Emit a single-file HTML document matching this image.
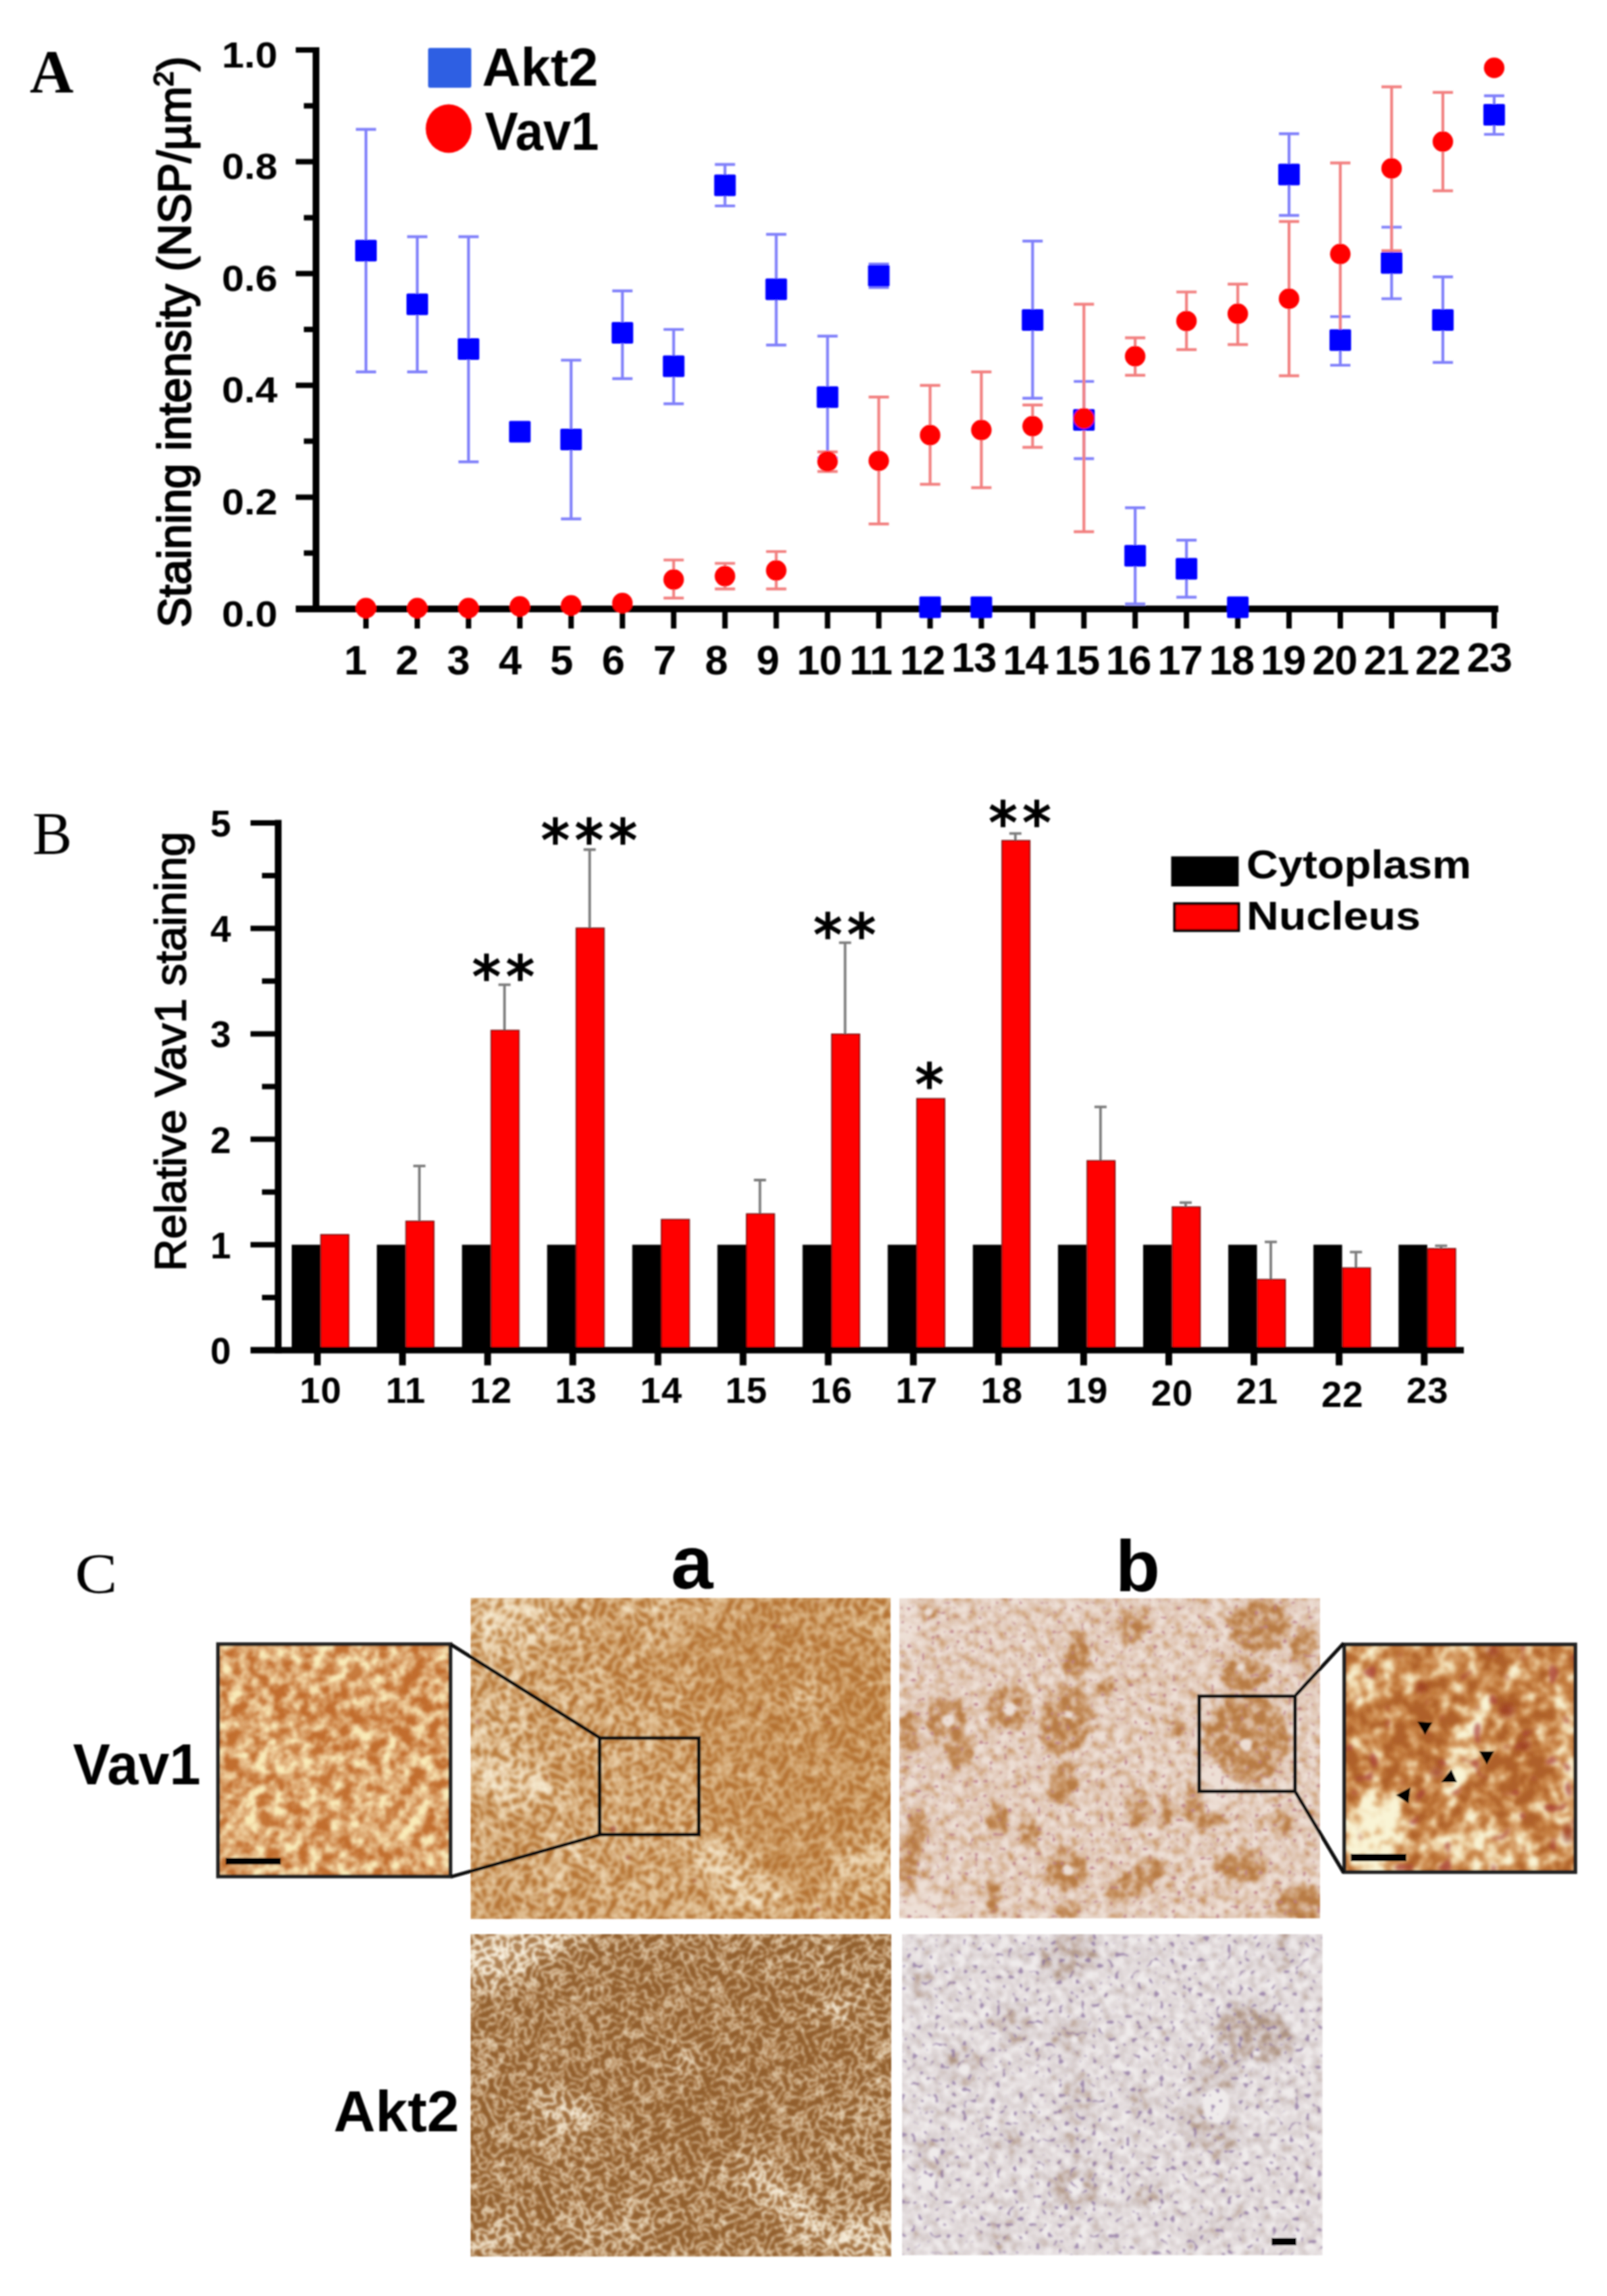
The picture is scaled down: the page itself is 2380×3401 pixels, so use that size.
<!DOCTYPE html>
<html lang="en"><head><meta charset="utf-8"><title>Figure</title>
<style>html,body{margin:0;padding:0;background:#fff}svg{display:block}text{fill:#000}</style></head>
<body><svg width="2380" height="3401" viewBox="0 0 2380 3401">
<rect width="2380" height="3401" fill="#fff"/>
<defs><filter id="soft" x="-2%" y="-2%" width="104%" height="104%"><feGaussianBlur stdDeviation="0.9"/></filter></defs>
<g id="panelA" filter="url(#soft)">
<text x="44" y="137" font-family='"Liberation Serif", "Times New Roman", serif' font-size="90" font-weight="bold" fill="#222">A</text>
<g stroke="#000" fill="none">
<path d="M468 70V907" stroke-width="10"/>
<path d="M438 902H2219" stroke-width="10"/>
<path d="M438 902.0H468M450 819.2H468M438 736.4H468M450 653.6H468M438 570.8H468M450 488.0H468M438 405.2H468M450 322.4H468M438 239.6H468M450 156.8H468M438 74.0H468" stroke-width="8"/>
<path d="M542.0 904V931M618.0 904V931M693.9 904V931M769.9 904V931M845.8 904V931M921.8 904V931M997.7 904V931M1073.7 904V931M1149.6 904V931M1225.6 904V931M1301.5 904V931M1377.5 904V931M1453.4 904V931M1529.3 904V931M1605.3 904V931M1681.2 904V931M1757.2 904V931M1833.2 904V931M1909.1 904V931M1985.0 904V931M2061.0 904V931M2136.9 904V931M2212.9 904V931" stroke-width="8"/>
</g>
<text transform="translate(411,927.5) scale(1.12,1)" text-anchor="end" font-family='"Liberation Sans", Arial, Helvetica, sans-serif' font-weight="bold" font-size="53">0.0</text>
<text transform="translate(411,761.9) scale(1.12,1)" text-anchor="end" font-family='"Liberation Sans", Arial, Helvetica, sans-serif' font-weight="bold" font-size="53">0.2</text>
<text transform="translate(411,596.3) scale(1.12,1)" text-anchor="end" font-family='"Liberation Sans", Arial, Helvetica, sans-serif' font-weight="bold" font-size="53">0.4</text>
<text transform="translate(411,430.7) scale(1.12,1)" text-anchor="end" font-family='"Liberation Sans", Arial, Helvetica, sans-serif' font-weight="bold" font-size="53">0.6</text>
<text transform="translate(411,265.1) scale(1.12,1)" text-anchor="end" font-family='"Liberation Sans", Arial, Helvetica, sans-serif' font-weight="bold" font-size="53">0.8</text>
<text transform="translate(411,99.5) scale(1.12,1)" text-anchor="end" font-family='"Liberation Sans", Arial, Helvetica, sans-serif' font-weight="bold" font-size="53">1.0</text>
<text x="526.0" y="999" text-anchor="middle" font-family='"Liberation Sans", Arial, Helvetica, sans-serif' font-weight="bold" font-size="61.5" letter-spacing="-1">1</text>
<text x="602.4" y="999" text-anchor="middle" font-family='"Liberation Sans", Arial, Helvetica, sans-serif' font-weight="bold" font-size="61.5" letter-spacing="-1">2</text>
<text x="678.7" y="999" text-anchor="middle" font-family='"Liberation Sans", Arial, Helvetica, sans-serif' font-weight="bold" font-size="61.5" letter-spacing="-1">3</text>
<text x="755.1" y="999" text-anchor="middle" font-family='"Liberation Sans", Arial, Helvetica, sans-serif' font-weight="bold" font-size="61.5" letter-spacing="-1">4</text>
<text x="831.4" y="999" text-anchor="middle" font-family='"Liberation Sans", Arial, Helvetica, sans-serif' font-weight="bold" font-size="61.5" letter-spacing="-1">5</text>
<text x="907.8" y="999" text-anchor="middle" font-family='"Liberation Sans", Arial, Helvetica, sans-serif' font-weight="bold" font-size="61.5" letter-spacing="-1">6</text>
<text x="984.1" y="999" text-anchor="middle" font-family='"Liberation Sans", Arial, Helvetica, sans-serif' font-weight="bold" font-size="61.5" letter-spacing="-1">7</text>
<text x="1060.5" y="999" text-anchor="middle" font-family='"Liberation Sans", Arial, Helvetica, sans-serif' font-weight="bold" font-size="61.5" letter-spacing="-1">8</text>
<text x="1136.8" y="999" text-anchor="middle" font-family='"Liberation Sans", Arial, Helvetica, sans-serif' font-weight="bold" font-size="61.5" letter-spacing="-1">9</text>
<text x="1213.2" y="999" text-anchor="middle" font-family='"Liberation Sans", Arial, Helvetica, sans-serif' font-weight="bold" font-size="61.5" letter-spacing="-1">10</text>
<text x="1289.5" y="999" text-anchor="middle" font-family='"Liberation Sans", Arial, Helvetica, sans-serif' font-weight="bold" font-size="61.5" letter-spacing="-1">11</text>
<text x="1365.9" y="999" text-anchor="middle" font-family='"Liberation Sans", Arial, Helvetica, sans-serif' font-weight="bold" font-size="61.5" letter-spacing="-1">12</text>
<text x="1442.2" y="995" text-anchor="middle" font-family='"Liberation Sans", Arial, Helvetica, sans-serif' font-weight="bold" font-size="61.5" letter-spacing="-1">13</text>
<text x="1518.5" y="999" text-anchor="middle" font-family='"Liberation Sans", Arial, Helvetica, sans-serif' font-weight="bold" font-size="61.5" letter-spacing="-1">14</text>
<text x="1594.9" y="999" text-anchor="middle" font-family='"Liberation Sans", Arial, Helvetica, sans-serif' font-weight="bold" font-size="61.5" letter-spacing="-1">15</text>
<text x="1671.2" y="999" text-anchor="middle" font-family='"Liberation Sans", Arial, Helvetica, sans-serif' font-weight="bold" font-size="61.5" letter-spacing="-1">16</text>
<text x="1747.6" y="999" text-anchor="middle" font-family='"Liberation Sans", Arial, Helvetica, sans-serif' font-weight="bold" font-size="61.5" letter-spacing="-1">17</text>
<text x="1824.0" y="999" text-anchor="middle" font-family='"Liberation Sans", Arial, Helvetica, sans-serif' font-weight="bold" font-size="61.5" letter-spacing="-1">18</text>
<text x="1900.3" y="999" text-anchor="middle" font-family='"Liberation Sans", Arial, Helvetica, sans-serif' font-weight="bold" font-size="61.5" letter-spacing="-1">19</text>
<text x="1976.6" y="999" text-anchor="middle" font-family='"Liberation Sans", Arial, Helvetica, sans-serif' font-weight="bold" font-size="61.5" letter-spacing="-1">20</text>
<text x="2053.0" y="999" text-anchor="middle" font-family='"Liberation Sans", Arial, Helvetica, sans-serif' font-weight="bold" font-size="61.5" letter-spacing="-1">21</text>
<text x="2129.3" y="999" text-anchor="middle" font-family='"Liberation Sans", Arial, Helvetica, sans-serif' font-weight="bold" font-size="61.5" letter-spacing="-1">22</text>
<text x="2205.7" y="995" text-anchor="middle" font-family='"Liberation Sans", Arial, Helvetica, sans-serif' font-weight="bold" font-size="61.5" letter-spacing="-1">23</text>
<text transform="translate(281.5,506.5) rotate(-90) scale(1,1.03)" text-anchor="middle" font-family='"Liberation Sans", Arial, Helvetica, sans-serif' font-size="67.3" stroke="#000" stroke-width="2.2" stroke-linejoin="round">Staining intensity (NSP/µm<tspan font-size="40" dy="-25">2</tspan><tspan dy="25">)</tspan></text>
<path d="M542.0 191.6V550.9M527.0 191.6h30M527.0 550.9h30" stroke="#8080fa" stroke-width="4.2" fill="none"/>
<path d="M618.0 350.6V550.9M603.0 350.6h30M603.0 550.9h30" stroke="#8080fa" stroke-width="4.2" fill="none"/>
<path d="M693.9 350.6V684.2M678.9 350.6h30M678.9 684.2h30" stroke="#8080fa" stroke-width="4.2" fill="none"/>
<path d="M845.8 533.5V768.7M830.8 533.5h30M830.8 768.7h30" stroke="#8080fa" stroke-width="4.2" fill="none"/>
<path d="M921.8 430.9V560.9M906.8 430.9h30M906.8 560.9h30" stroke="#8080fa" stroke-width="4.2" fill="none"/>
<path d="M997.7 488.0V598.1M982.7 488.0h30M982.7 598.1h30" stroke="#8080fa" stroke-width="4.2" fill="none"/>
<path d="M1073.7 243.7V305.0M1058.7 243.7h30M1058.7 305.0h30" stroke="#8080fa" stroke-width="4.2" fill="none"/>
<path d="M1149.6 347.2V511.2M1134.6 347.2h30M1134.6 511.2h30" stroke="#8080fa" stroke-width="4.2" fill="none"/>
<path d="M1225.6 497.9V678.4M1210.6 497.9h30M1210.6 678.4h30" stroke="#8080fa" stroke-width="4.2" fill="none"/>
<path d="M1301.5 391.1V425.9M1286.5 391.1h30M1286.5 425.9h30" stroke="#8080fa" stroke-width="4.2" fill="none"/>
<path d="M1529.3 357.2V589.8M1514.3 357.2h30M1514.3 589.8h30" stroke="#8080fa" stroke-width="4.2" fill="none"/>
<path d="M1605.3 565.0V679.3M1590.3 565.0h30M1590.3 679.3h30" stroke="#8080fa" stroke-width="4.2" fill="none"/>
<path d="M1681.2 752.1V894.5M1666.2 752.1h30M1666.2 894.5h30" stroke="#8080fa" stroke-width="4.2" fill="none"/>
<path d="M1757.2 800.2V884.6M1742.2 800.2h30M1742.2 884.6h30" stroke="#8080fa" stroke-width="4.2" fill="none"/>
<path d="M1909.1 198.2V319.1M1894.1 198.2h30M1894.1 319.1h30" stroke="#8080fa" stroke-width="4.2" fill="none"/>
<path d="M1985.0 469.0V541.0M1970.0 469.0h30M1970.0 541.0h30" stroke="#8080fa" stroke-width="4.2" fill="none"/>
<path d="M2061.0 336.5V442.5M2046.0 336.5h30M2046.0 442.5h30" stroke="#8080fa" stroke-width="4.2" fill="none"/>
<path d="M2136.9 410.2V536.9M2121.9 410.2h30M2121.9 536.9h30" stroke="#8080fa" stroke-width="4.2" fill="none"/>
<path d="M2212.9 141.9V199.0M2197.9 141.9h30M2197.9 199.0h30" stroke="#8080fa" stroke-width="4.2" fill="none"/>
<path d="M997.7 829.5V885.8M982.7 829.5h30M982.7 885.8h30" stroke="#f28080" stroke-width="4.2" fill="none"/>
<path d="M1073.7 834.5V872.4M1058.7 834.5h30M1058.7 872.4h30" stroke="#f28080" stroke-width="4.2" fill="none"/>
<path d="M1149.6 817.0V872.4M1134.6 817.0h30M1134.6 872.4h30" stroke="#f28080" stroke-width="4.2" fill="none"/>
<path d="M1225.6 669.3V698.3M1210.6 669.3h30M1210.6 698.3h30" stroke="#f28080" stroke-width="4.2" fill="none"/>
<path d="M1301.5 588.2V776.1M1286.5 588.2h30M1286.5 776.1h30" stroke="#f28080" stroke-width="4.2" fill="none"/>
<path d="M1377.5 570.8V717.4M1362.5 570.8h30M1362.5 717.4h30" stroke="#f28080" stroke-width="4.2" fill="none"/>
<path d="M1453.4 550.9V722.3M1438.4 550.9h30M1438.4 722.3h30" stroke="#f28080" stroke-width="4.2" fill="none"/>
<path d="M1529.3 599.8V662.7M1514.3 599.8h30M1514.3 662.7h30" stroke="#f28080" stroke-width="4.2" fill="none"/>
<path d="M1605.3 450.7V787.7M1590.3 450.7h30M1590.3 787.7h30" stroke="#f28080" stroke-width="4.2" fill="none"/>
<path d="M1681.2 500.4V555.9M1666.2 500.4h30M1666.2 555.9h30" stroke="#f28080" stroke-width="4.2" fill="none"/>
<path d="M1757.2 432.5V517.8M1742.2 432.5h30M1742.2 517.8h30" stroke="#f28080" stroke-width="4.2" fill="none"/>
<path d="M1833.2 420.9V510.4M1818.2 420.9h30M1818.2 510.4h30" stroke="#f28080" stroke-width="4.2" fill="none"/>
<path d="M1909.1 328.2V556.7M1894.1 328.2h30M1894.1 556.7h30" stroke="#f28080" stroke-width="4.2" fill="none"/>
<path d="M1985.0 241.3V512.0M1970.0 241.3h30M1970.0 512.0h30" stroke="#f28080" stroke-width="4.2" fill="none"/>
<path d="M2061.0 128.6V371.3M2046.0 128.6h30M2046.0 371.3h30" stroke="#f28080" stroke-width="4.2" fill="none"/>
<path d="M2136.9 136.9V282.7M2121.9 136.9h30M2121.9 282.7h30" stroke="#f28080" stroke-width="4.2" fill="none"/>
<rect x="526.0" y="355.3" width="32" height="32" rx="2" fill="#0000ff"/>
<rect x="602.0" y="434.7" width="32" height="32" rx="2" fill="#0000ff"/>
<rect x="677.9" y="501.0" width="32" height="32" rx="2" fill="#0000ff"/>
<rect x="753.9" y="623.5" width="32" height="32" rx="2" fill="#0000ff"/>
<rect x="829.8" y="635.1" width="32" height="32" rx="2" fill="#0000ff"/>
<rect x="905.8" y="477.0" width="32" height="32" rx="2" fill="#0000ff"/>
<rect x="981.7" y="526.6" width="32" height="32" rx="2" fill="#0000ff"/>
<rect x="1057.7" y="258.4" width="32" height="32" rx="2" fill="#0000ff"/>
<rect x="1133.6" y="412.4" width="32" height="32" rx="2" fill="#0000ff"/>
<rect x="1209.6" y="572.2" width="32" height="32" rx="2" fill="#0000ff"/>
<rect x="1285.5" y="392.5" width="32" height="32" rx="2" fill="#0000ff"/>
<rect x="1361.5" y="883.5" width="32" height="32" rx="2" fill="#0000ff"/>
<rect x="1437.4" y="883.5" width="32" height="32" rx="2" fill="#0000ff"/>
<rect x="1513.3" y="457.9" width="32" height="32" rx="2" fill="#0000ff"/>
<rect x="1589.3" y="606.1" width="32" height="32" rx="2" fill="#0000ff"/>
<rect x="1665.2" y="807.3" width="32" height="32" rx="2" fill="#0000ff"/>
<rect x="1741.2" y="826.4" width="32" height="32" rx="2" fill="#0000ff"/>
<rect x="1817.2" y="883.5" width="32" height="32" rx="2" fill="#0000ff"/>
<rect x="1893.1" y="242.6" width="32" height="32" rx="2" fill="#0000ff"/>
<rect x="1969.0" y="487.7" width="32" height="32" rx="2" fill="#0000ff"/>
<rect x="2045.0" y="373.5" width="32" height="32" rx="2" fill="#0000ff"/>
<rect x="2120.9" y="457.9" width="32" height="32" rx="2" fill="#0000ff"/>
<rect x="2196.9" y="154.0" width="32" height="32" rx="2" fill="#0000ff"/>
<circle cx="542.0" cy="900.7" r="15.2" fill="#ff0000"/>
<circle cx="618.0" cy="900.7" r="15.2" fill="#ff0000"/>
<circle cx="693.9" cy="900.7" r="15.2" fill="#ff0000"/>
<circle cx="769.9" cy="898.2" r="15.2" fill="#ff0000"/>
<circle cx="845.8" cy="896.7" r="15.2" fill="#ff0000"/>
<circle cx="921.8" cy="893.2" r="15.2" fill="#ff0000"/>
<circle cx="997.7" cy="858.4" r="15.2" fill="#ff0000"/>
<circle cx="1073.7" cy="853.4" r="15.2" fill="#ff0000"/>
<circle cx="1149.6" cy="845.0" r="15.2" fill="#ff0000"/>
<circle cx="1225.6" cy="683.4" r="15.2" fill="#ff0000"/>
<circle cx="1301.5" cy="682.6" r="15.2" fill="#ff0000"/>
<circle cx="1377.5" cy="644.5" r="15.2" fill="#ff0000"/>
<circle cx="1453.4" cy="637.0" r="15.2" fill="#ff0000"/>
<circle cx="1529.3" cy="631.2" r="15.2" fill="#ff0000"/>
<circle cx="1605.3" cy="619.7" r="15.2" fill="#ff0000"/>
<circle cx="1681.2" cy="527.7" r="15.2" fill="#ff0000"/>
<circle cx="1757.2" cy="475.6" r="15.2" fill="#ff0000"/>
<circle cx="1833.2" cy="464.8" r="15.2" fill="#ff0000"/>
<circle cx="1909.1" cy="442.5" r="15.2" fill="#ff0000"/>
<circle cx="1985.0" cy="376.2" r="15.2" fill="#ff0000"/>
<circle cx="2061.0" cy="249.5" r="15.2" fill="#ff0000"/>
<circle cx="2136.9" cy="209.8" r="15.2" fill="#ff0000"/>
<circle cx="2212.9" cy="100.5" r="15.2" fill="#ff0000"/>
<rect x="634" y="71" width="64" height="59" rx="3" fill="#2e5fe3"/>
<text x="714" y="127" font-family='"Liberation Sans", Arial, Helvetica, sans-serif' font-weight="bold" font-size="80" textLength="172" lengthAdjust="spacingAndGlyphs">Akt2</text>
<ellipse cx="664.5" cy="190.5" rx="34" ry="36" fill="#ff0000"/>
<text x="718" y="222" font-family='"Liberation Sans", Arial, Helvetica, sans-serif' font-weight="bold" font-size="80" textLength="169" lengthAdjust="spacingAndGlyphs">Vav1</text>
</g>
<g id="panelB" filter="url(#soft)">
<text x="48" y="1264" font-family='"Liberation Serif", "Times New Roman", serif' font-size="88" fill="#111">B</text>
<rect x="432.0" y="1843.8" width="42.5" height="156.2" fill="#000"/>
<rect x="475.1" y="1828.8" width="41.4" height="170.7" fill="#ff0000" stroke="#6a1010" stroke-width="1.6"/>
<rect x="558.1" y="1843.8" width="42.5" height="156.2" fill="#000"/>
<path d="M621.1 1809.4V1727.1M612.1 1727.1h18" stroke="#7c7c7c" stroke-width="3.8" fill="none"/>
<rect x="601.2" y="1808.9" width="41.4" height="190.6" fill="#ff0000" stroke="#6a1010" stroke-width="1.6"/>
<rect x="684.2" y="1843.8" width="42.5" height="156.2" fill="#000"/>
<path d="M747.2 1526.7V1458.6M738.2 1458.6h18" stroke="#7c7c7c" stroke-width="3.8" fill="none"/>
<rect x="727.3" y="1526.2" width="41.4" height="473.3" fill="#ff0000" stroke="#6a1010" stroke-width="1.6"/>
<rect x="810.3" y="1843.8" width="42.5" height="156.2" fill="#000"/>
<path d="M873.3 1375.2V1258.5M864.3 1258.5h18" stroke="#7c7c7c" stroke-width="3.8" fill="none"/>
<rect x="853.4" y="1374.7" width="41.4" height="624.8" fill="#ff0000" stroke="#6a1010" stroke-width="1.6"/>
<rect x="936.4" y="1843.8" width="42.5" height="156.2" fill="#000"/>
<rect x="979.5" y="1806.3" width="41.4" height="193.2" fill="#ff0000" stroke="#6a1010" stroke-width="1.6"/>
<rect x="1062.5" y="1843.8" width="42.5" height="156.2" fill="#000"/>
<path d="M1125.5 1798.5V1748.0M1116.5 1748.0h18" stroke="#7c7c7c" stroke-width="3.8" fill="none"/>
<rect x="1105.6" y="1798.0" width="41.4" height="201.5" fill="#ff0000" stroke="#6a1010" stroke-width="1.6"/>
<rect x="1188.6" y="1843.8" width="42.5" height="156.2" fill="#000"/>
<path d="M1251.6 1532.3V1396.4M1242.6 1396.4h18" stroke="#7c7c7c" stroke-width="3.8" fill="none"/>
<rect x="1231.7" y="1531.8" width="41.4" height="467.7" fill="#ff0000" stroke="#6a1010" stroke-width="1.6"/>
<rect x="1314.7" y="1843.8" width="42.5" height="156.2" fill="#000"/>
<rect x="1357.8" y="1627.3" width="41.4" height="372.2" fill="#ff0000" stroke="#6a1010" stroke-width="1.6"/>
<rect x="1440.8" y="1843.8" width="42.5" height="156.2" fill="#000"/>
<path d="M1503.8 1245.6V1234.6M1494.8 1234.6h18" stroke="#7c7c7c" stroke-width="3.8" fill="none"/>
<rect x="1483.9" y="1245.1" width="41.4" height="754.4" fill="#ff0000" stroke="#6a1010" stroke-width="1.6"/>
<rect x="1566.9" y="1843.8" width="42.5" height="156.2" fill="#000"/>
<path d="M1629.9 1719.8V1639.6M1620.9 1639.6h18" stroke="#7c7c7c" stroke-width="3.8" fill="none"/>
<rect x="1610.0" y="1719.3" width="41.4" height="280.2" fill="#ff0000" stroke="#6a1010" stroke-width="1.6"/>
<rect x="1693.0" y="1843.8" width="42.5" height="156.2" fill="#000"/>
<path d="M1756.0 1788.2V1781.3M1747.0 1781.3h18" stroke="#7c7c7c" stroke-width="3.8" fill="none"/>
<rect x="1736.1" y="1787.7" width="41.4" height="211.8" fill="#ff0000" stroke="#6a1010" stroke-width="1.6"/>
<rect x="1819.1" y="1843.8" width="42.5" height="156.2" fill="#000"/>
<path d="M1882.1 1895.7V1839.6M1873.1 1839.6h18" stroke="#7c7c7c" stroke-width="3.8" fill="none"/>
<rect x="1862.2" y="1895.2" width="41.4" height="104.3" fill="#ff0000" stroke="#6a1010" stroke-width="1.6"/>
<rect x="1945.2" y="1843.8" width="42.5" height="156.2" fill="#000"/>
<path d="M2008.2 1878.6V1854.7M1999.2 1854.7h18" stroke="#7c7c7c" stroke-width="3.8" fill="none"/>
<rect x="1988.3" y="1878.1" width="41.4" height="121.4" fill="#ff0000" stroke="#6a1010" stroke-width="1.6"/>
<rect x="2071.3" y="1843.8" width="42.5" height="156.2" fill="#000"/>
<path d="M2134.3 1850.0V1845.4M2125.3 1845.4h18" stroke="#7c7c7c" stroke-width="3.8" fill="none"/>
<rect x="2114.4" y="1849.5" width="41.4" height="150.0" fill="#ff0000" stroke="#6a1010" stroke-width="1.6"/>
<g stroke="#000" fill="none">
<path d="M412 1214.5V2004.5" stroke-width="10"/>
<path d="M371 2000H2168" stroke-width="9.5"/>
<path d="M371 2000.0H412M388 1921.9H412M371 1843.8H412M388 1765.7H412M371 1687.6H412M388 1609.5H412M371 1531.4H412M388 1453.3H412M371 1375.2H412M388 1297.1H412M371 1219.0H412" stroke-width="8"/>
<path d="M470.0 2002V2022.5M596.1 2002V2022.5M722.2 2002V2022.5M848.3 2002V2022.5M974.4 2002V2022.5M1100.5 2002V2022.5M1226.6 2002V2022.5M1352.7 2002V2022.5M1478.8 2002V2022.5M1604.9 2002V2022.5M1731.0 2002V2022.5M1857.1 2002V2022.5M1983.2 2002V2022.5M2109.3 2002V2022.5" stroke-width="10"/>
</g>
<text x="342" y="2020.0" text-anchor="end" font-family='"Liberation Sans", Arial, Helvetica, sans-serif' font-weight="bold" font-size="55">0</text>
<text x="342" y="1863.8" text-anchor="end" font-family='"Liberation Sans", Arial, Helvetica, sans-serif' font-weight="bold" font-size="55">1</text>
<text x="342" y="1707.6" text-anchor="end" font-family='"Liberation Sans", Arial, Helvetica, sans-serif' font-weight="bold" font-size="55">2</text>
<text x="342" y="1551.4" text-anchor="end" font-family='"Liberation Sans", Arial, Helvetica, sans-serif' font-weight="bold" font-size="55">3</text>
<text x="342" y="1395.2" text-anchor="end" font-family='"Liberation Sans", Arial, Helvetica, sans-serif' font-weight="bold" font-size="55">4</text>
<text x="342" y="1239.0" text-anchor="end" font-family='"Liberation Sans", Arial, Helvetica, sans-serif' font-weight="bold" font-size="55">5</text>
<text x="475.0" y="2078" text-anchor="middle" font-family='"Liberation Sans", Arial, Helvetica, sans-serif' font-weight="bold" font-size="54.5" letter-spacing="1">10</text>
<text x="601.1" y="2078" text-anchor="middle" font-family='"Liberation Sans", Arial, Helvetica, sans-serif' font-weight="bold" font-size="54.5" letter-spacing="1">11</text>
<text x="727.2" y="2078" text-anchor="middle" font-family='"Liberation Sans", Arial, Helvetica, sans-serif' font-weight="bold" font-size="54.5" letter-spacing="1">12</text>
<text x="853.3" y="2078" text-anchor="middle" font-family='"Liberation Sans", Arial, Helvetica, sans-serif' font-weight="bold" font-size="54.5" letter-spacing="1">13</text>
<text x="979.4" y="2078" text-anchor="middle" font-family='"Liberation Sans", Arial, Helvetica, sans-serif' font-weight="bold" font-size="54.5" letter-spacing="1">14</text>
<text x="1105.5" y="2078" text-anchor="middle" font-family='"Liberation Sans", Arial, Helvetica, sans-serif' font-weight="bold" font-size="54.5" letter-spacing="1">15</text>
<text x="1231.6" y="2078" text-anchor="middle" font-family='"Liberation Sans", Arial, Helvetica, sans-serif' font-weight="bold" font-size="54.5" letter-spacing="1">16</text>
<text x="1357.7" y="2078" text-anchor="middle" font-family='"Liberation Sans", Arial, Helvetica, sans-serif' font-weight="bold" font-size="54.5" letter-spacing="1">17</text>
<text x="1483.8" y="2078" text-anchor="middle" font-family='"Liberation Sans", Arial, Helvetica, sans-serif' font-weight="bold" font-size="54.5" letter-spacing="1">18</text>
<text x="1609.9" y="2078" text-anchor="middle" font-family='"Liberation Sans", Arial, Helvetica, sans-serif' font-weight="bold" font-size="54.5" letter-spacing="1">19</text>
<text x="1736.0" y="2082" text-anchor="middle" font-family='"Liberation Sans", Arial, Helvetica, sans-serif' font-weight="bold" font-size="54.5" letter-spacing="1">20</text>
<text x="1862.1" y="2079" text-anchor="middle" font-family='"Liberation Sans", Arial, Helvetica, sans-serif' font-weight="bold" font-size="54.5" letter-spacing="1">21</text>
<text x="1988.2" y="2084" text-anchor="middle" font-family='"Liberation Sans", Arial, Helvetica, sans-serif' font-weight="bold" font-size="54.5" letter-spacing="1">22</text>
<text x="2114.3" y="2078" text-anchor="middle" font-family='"Liberation Sans", Arial, Helvetica, sans-serif' font-weight="bold" font-size="54.5" letter-spacing="1">23</text>
<text transform="translate(275,1557.5) rotate(-90)" text-anchor="middle" font-family='"Liberation Sans", Arial, Helvetica, sans-serif' font-size="64" stroke="#000" stroke-width="1.6" textLength="651" lengthAdjust="spacingAndGlyphs">Relative Vav1 staining</text>
<text x="699.5" y="1475.5" font-family='"DejaVu Sans", sans-serif' font-size="84" letter-spacing="8" stroke="#000" stroke-width="2.4">**</text>
<text x="801.5" y="1273.5" font-family='"DejaVu Sans", sans-serif' font-size="84" letter-spacing="8" stroke="#000" stroke-width="2.4">***</text>
<text x="1205.0" y="1413.5" font-family='"DejaVu Sans", sans-serif' font-size="84" letter-spacing="8" stroke="#000" stroke-width="2.4">**</text>
<text x="1355.5" y="1636.0" font-family='"DejaVu Sans", sans-serif' font-size="84" letter-spacing="8" stroke="#000" stroke-width="2.4">*</text>
<text x="1464.5" y="1247.5" font-family='"DejaVu Sans", sans-serif' font-size="84" letter-spacing="8" stroke="#000" stroke-width="2.4">**</text>
<rect x="1734.5" y="1268.5" width="100" height="44.5" fill="#000"/>
<rect x="1739.5" y="1338.5" width="95" height="40" fill="#ff0000" stroke="#000" stroke-width="4"/>
<text x="1846" y="1301" font-family='"Liberation Sans", Arial, Helvetica, sans-serif' font-weight="bold" font-size="60" textLength="333" lengthAdjust="spacingAndGlyphs">Cytoplasm</text>
<text x="1846" y="1377" font-family='"Liberation Sans", Arial, Helvetica, sans-serif' font-weight="bold" font-size="60" textLength="258" lengthAdjust="spacingAndGlyphs">Nucleus</text>
</g>
<defs>
<filter id="b2" x="-60%" y="-60%" width="220%" height="220%"><feGaussianBlur stdDeviation="2"/></filter>
<filter id="b4" x="-60%" y="-60%" width="220%" height="220%"><feGaussianBlur stdDeviation="4"/></filter>
<filter id="b8" x="-60%" y="-60%" width="220%" height="220%"><feGaussianBlur stdDeviation="8"/></filter>
<filter id="b14" x="-60%" y="-60%" width="220%" height="220%"><feGaussianBlur stdDeviation="14"/></filter>
<filter id="b25" x="-60%" y="-60%" width="220%" height="220%"><feGaussianBlur stdDeviation="25"/></filter>
<filter id="fVa" x="-5%" y="-5%" width="110%" height="110%" color-interpolation-filters="sRGB"><feTurbulence type="turbulence" baseFrequency="0.085" numOctaves="2" seed="3" result="n"/><feColorMatrix in="n" type="matrix" values="-2.3 0 0 0 1.0  -2.3 0 0 0 1.0  -2.3 0 0 0 1.0  0 0 0 0 1" result="g"/><feComposite in="g" in2="SourceGraphic" operator="arithmetic" k1="0" k2="1" k3="1.0" k4="-0.500" result="m"/><feComponentTransfer in="m" result="c"><feFuncR type="table" tableValues="0.706 0.745 0.816 0.910 0.973"/><feFuncG type="table" tableValues="0.447 0.510 0.627 0.800 0.933"/><feFuncB type="table" tableValues="0.196 0.259 0.416 0.643 0.839"/><feFuncA type="linear" slope="0" intercept="1"/></feComponentTransfer><feGaussianBlur in="c" stdDeviation="1.9"/></filter>
<filter id="fAa" x="-5%" y="-5%" width="110%" height="110%" color-interpolation-filters="sRGB"><feTurbulence type="turbulence" baseFrequency="0.085" numOctaves="2" seed="11" result="n"/><feColorMatrix in="n" type="matrix" values="-2.4 0 0 0 0.92  -2.4 0 0 0 0.92  -2.4 0 0 0 0.92  0 0 0 0 1" result="g"/><feComposite in="g" in2="SourceGraphic" operator="arithmetic" k1="0" k2="1" k3="1.0" k4="-0.500" result="m"/><feComponentTransfer in="m" result="c"><feFuncR type="table" tableValues="0.573 0.627 0.737 0.886 0.980"/><feFuncG type="table" tableValues="0.376 0.431 0.573 0.800 0.949"/><feFuncB type="table" tableValues="0.180 0.235 0.400 0.675 0.886"/><feFuncA type="linear" slope="0" intercept="1"/></feComponentTransfer><feGaussianBlur in="c" stdDeviation="1.8"/></filter>
<filter id="fVb" x="-5%" y="-5%" width="110%" height="110%" color-interpolation-filters="sRGB"><feTurbulence type="fractalNoise" baseFrequency="0.075" numOctaves="2" seed="7" result="n"/><feColorMatrix in="n" type="matrix" values="1.4 0 0 0 -0.02  1.4 0 0 0 -0.02  1.4 0 0 0 -0.02  0 0 0 0 1" result="g"/><feComposite in="g" in2="SourceGraphic" operator="arithmetic" k1="0" k2="1" k3="1.7" k4="-0.850" result="m"/><feComponentTransfer in="m" result="c"><feFuncR type="table" tableValues="0.722 0.784 0.855 0.894 0.933"/><feFuncG type="table" tableValues="0.486 0.580 0.722 0.808 0.878"/><feFuncB type="table" tableValues="0.267 0.392 0.612 0.753 0.839"/><feFuncA type="linear" slope="0" intercept="1"/></feComponentTransfer><feGaussianBlur in="c" stdDeviation="1.5"/></filter>
<filter id="fAb" x="-5%" y="-5%" width="110%" height="110%" color-interpolation-filters="sRGB"><feTurbulence type="fractalNoise" baseFrequency="0.075" numOctaves="2" seed="21" result="n"/><feColorMatrix in="n" type="matrix" values="1.3 0 0 0 0.05  1.3 0 0 0 0.05  1.3 0 0 0 0.05  0 0 0 0 1" result="g"/><feComposite in="g" in2="SourceGraphic" operator="arithmetic" k1="0" k2="1" k3="1.6" k4="-0.800" result="m"/><feComponentTransfer in="m" result="c"><feFuncR type="table" tableValues="0.682 0.769 0.843 0.894 0.941"/><feFuncG type="table" tableValues="0.580 0.690 0.804 0.867 0.925"/><feFuncB type="table" tableValues="0.510 0.651 0.804 0.871 0.925"/><feFuncA type="linear" slope="0" intercept="1"/></feComponentTransfer><feGaussianBlur in="c" stdDeviation="1.5"/></filter>
<filter id="fIL" x="-5%" y="-5%" width="110%" height="110%" color-interpolation-filters="sRGB"><feTurbulence type="fractalNoise" baseFrequency="0.055" numOctaves="3" seed="9" result="n"/><feColorMatrix in="n" type="matrix" values="2.4 0 0 0 -0.76  2.4 0 0 0 -0.76  2.4 0 0 0 -0.76  0 0 0 0 1" result="g"/><feComposite in="g" in2="SourceGraphic" operator="arithmetic" k1="0" k2="1" k3="1.0" k4="-0.500" result="m"/><feComponentTransfer in="m" result="c"><feFuncR type="table" tableValues="0.761 0.816 0.871 0.925 0.980"/><feFuncG type="table" tableValues="0.431 0.541 0.667 0.784 0.925"/><feFuncB type="table" tableValues="0.180 0.306 0.455 0.588 0.722"/><feFuncA type="linear" slope="0" intercept="1"/></feComponentTransfer><feGaussianBlur in="c" stdDeviation="1.7"/></filter>
<filter id="fIR" x="-5%" y="-5%" width="110%" height="110%" color-interpolation-filters="sRGB"><feTurbulence type="fractalNoise" baseFrequency="0.05" numOctaves="3" seed="14" result="n"/><feColorMatrix in="n" type="matrix" values="2.0 0 0 0 -0.62  2.0 0 0 0 -0.62  2.0 0 0 0 -0.62  0 0 0 0 1" result="g"/><feComposite in="g" in2="SourceGraphic" operator="arithmetic" k1="0" k2="1" k3="1.3" k4="-0.650" result="m"/><feComponentTransfer in="m" result="c"><feFuncR type="table" tableValues="0.690 0.769 0.839 0.933 0.980"/><feFuncG type="table" tableValues="0.384 0.486 0.612 0.824 0.957"/><feFuncB type="table" tableValues="0.165 0.243 0.392 0.643 0.839"/><feFuncA type="linear" slope="0" intercept="1"/></feComponentTransfer><feGaussianBlur in="c" stdDeviation="2.2"/></filter>
<filter id="dVb" x="0" y="0" width="100%" height="100%" color-interpolation-filters="sRGB"><feTurbulence type="fractalNoise" baseFrequency="0.14" numOctaves="1" seed="5" result="n"/><feColorMatrix in="n" type="matrix" values="0 0 0 0 0.737  0 0 0 0 0.486  0 0 0 0 0.533  14 0 0 0 -9.240" result="d"/><feGaussianBlur in="d" stdDeviation="0.9"/></filter>
<filter id="dAb" x="0" y="0" width="100%" height="100%" color-interpolation-filters="sRGB"><feTurbulence type="fractalNoise" baseFrequency="0.12" numOctaves="1" seed="8" result="n"/><feColorMatrix in="n" type="matrix" values="0 0 0 0 0.549  0 0 0 0 0.447  0 0 0 0 0.627  14 0 0 0 -8.890" result="d"/><feGaussianBlur in="d" stdDeviation="1.1"/></filter>
<filter id="dIR" x="0" y="0" width="100%" height="100%" color-interpolation-filters="sRGB"><feTurbulence type="fractalNoise" baseFrequency="0.045" numOctaves="1" seed="4" result="n"/><feColorMatrix in="n" type="matrix" values="0 0 0 0 0.667  0 0 0 0 0.251  0 0 0 0 0.235  14 0 0 0 -9.240" result="d"/><feGaussianBlur in="d" stdDeviation="2.0"/></filter>
<filter id="dVa" x="0" y="0" width="100%" height="100%" color-interpolation-filters="sRGB"><feTurbulence type="fractalNoise" baseFrequency="0.05" numOctaves="1" seed="2" result="n"/><feColorMatrix in="n" type="matrix" values="0 0 0 0 0.588  0 0 0 0 0.157  0 0 0 0 0.157  14 0 0 0 -10.360" result="d"/><feGaussianBlur in="d" stdDeviation="1.0"/></filter>
<clipPath id="cVa"><rect x="697" y="2367" width="622" height="475.5"/></clipPath>
<clipPath id="cVb"><rect x="1332" y="2367.5" width="623" height="474"/></clipPath>
<clipPath id="cAa"><rect x="697" y="2865" width="623" height="477.5"/></clipPath>
<clipPath id="cAb"><rect x="1336" y="2865" width="622.5" height="475.5"/></clipPath>
<clipPath id="cIL"><rect x="323" y="2437" width="344" height="343"/></clipPath>
<clipPath id="cIR"><rect x="1991" y="2436" width="342" height="337"/></clipPath>
</defs>
<g id="panelC" filter="url(#soft)">
<text transform="translate(111,2360) scale(1.12,1)" font-family='"Liberation Serif", "Times New Roman", serif' font-size="84" fill="#111">C</text>
<text x="1025" y="2353" text-anchor="middle" font-family='"Liberation Sans", Arial, Helvetica, sans-serif' font-weight="bold" font-size="112">a</text>
<text x="1685" y="2357" text-anchor="middle" font-family='"Liberation Sans", Arial, Helvetica, sans-serif' font-weight="bold" font-size="108">b</text>
<text x="108" y="2643" font-family='"Liberation Sans", Arial, Helvetica, sans-serif' font-weight="bold" font-size="86" textLength="189" lengthAdjust="spacingAndGlyphs">Vav1</text>
<text x="494" y="3157" font-family='"Liberation Sans", Arial, Helvetica, sans-serif' font-weight="bold" font-size="86" textLength="186" lengthAdjust="spacingAndGlyphs">Akt2</text>
<g clip-path="url(#cVa)"><g filter="url(#fVa)" transform="rotate(27 1008.0 2604.75)"><g transform="rotate(-27 1008.0 2604.75)">
<rect x="547" y="2217" width="922" height="775.5" fill="#808080"/>
<ellipse cx="735" cy="2395" rx="95" ry="55" fill="#fff" opacity="0.55" filter="url(#b25)"/>
<ellipse cx="770" cy="2640" rx="62" ry="28" fill="#fff" opacity="0.6" filter="url(#b14)" transform="rotate(20 770 2640)"/>
<ellipse cx="730" cy="2560" rx="50" ry="90" fill="#fff" opacity="0.22" filter="url(#b25)"/>
<ellipse cx="1196" cy="2515" rx="38" ry="26" fill="#fff" opacity="0.65" filter="url(#b14)"/>
<ellipse cx="1090" cy="2778" rx="72" ry="24" fill="#fff" opacity="0.7" filter="url(#b14)" transform="rotate(30 1090 2778)"/>
<ellipse cx="1270" cy="2762" rx="52" ry="26" fill="#fff" opacity="0.65" filter="url(#b14)" transform="rotate(-15 1270 2762)"/>
<ellipse cx="1110" cy="2650" rx="28" ry="22" fill="#fff" opacity="0.5" filter="url(#b14)"/>
<ellipse cx="960" cy="2405" rx="28" ry="40" fill="#fff" opacity="0.35" filter="url(#b14)"/>
<ellipse cx="850" cy="2740" rx="60" ry="40" fill="#fff" opacity="0.2" filter="url(#b25)"/>
<ellipse cx="1190" cy="2580" rx="150" ry="230" fill="#000" opacity="0.28" filter="url(#b25)"/>
<ellipse cx="1020" cy="2440" rx="120" ry="60" fill="#000" opacity="0.18" filter="url(#b25)"/>
</g></g>
<rect x="697" y="2367" width="622" height="475.5" filter="url(#dVa)" opacity="0.5"/>
</g>
<g clip-path="url(#cVb)"><g filter="url(#fVb)" transform="rotate(20 1643.5 2604.5)"><g transform="rotate(-20 1643.5 2604.5)">
<rect x="1182" y="2217.5" width="923" height="774" fill="#868686"/>
<ellipse cx="1372" cy="2388" rx="15.04" ry="11.28" fill="#000" opacity="0.56" filter="url(#b4)"/>
<ellipse cx="1676" cy="2408" rx="22.56" ry="22.56" fill="#000" opacity="0.56" filter="url(#b4)"/>
<ellipse cx="1595" cy="2453" rx="20.68" ry="35.72" fill="#000" opacity="0.56" filter="url(#b4)" transform="rotate(10 1595 2453)"/>
<ellipse cx="1866" cy="2408" rx="45.12" ry="39.48" fill="#000" opacity="0.56" filter="url(#b4)"/>
<ellipse cx="1842" cy="2481" rx="37.599999999999994" ry="26.32" fill="#000" opacity="0.56" filter="url(#b4)"/>
<ellipse cx="1494" cy="2530" rx="31.959999999999997" ry="31.959999999999997" fill="#000" opacity="0.56" filter="url(#b4)"/>
<ellipse cx="1401" cy="2546" rx="31.959999999999997" ry="31.959999999999997" fill="#000" opacity="0.56" filter="url(#b4)"/>
<ellipse cx="1579" cy="2550" rx="37.599999999999994" ry="52.64" fill="#000" opacity="0.56" filter="url(#b4)" transform="rotate(15 1579 2550)"/>
<ellipse cx="1421" cy="2595" rx="20.68" ry="26.32" fill="#000" opacity="0.56" filter="url(#b4)"/>
<ellipse cx="1346" cy="2570" rx="15.04" ry="37.599999999999994" fill="#000" opacity="0.56" filter="url(#b4)"/>
<ellipse cx="1846" cy="2575" rx="62.04" ry="65.8" fill="#000" opacity="0.56" filter="url(#b4)"/>
<ellipse cx="1575" cy="2643" rx="20.68" ry="31.959999999999997" fill="#000" opacity="0.56" filter="url(#b4)" transform="rotate(20 1575 2643)"/>
<ellipse cx="1785" cy="2675" rx="31.959999999999997" ry="35.72" fill="#000" opacity="0.56" filter="url(#b4)" transform="rotate(-30 1785 2675)"/>
<ellipse cx="1684" cy="2680" rx="15.04" ry="26.32" fill="#000" opacity="0.56" filter="url(#b4)"/>
<ellipse cx="1728" cy="2684" rx="11.28" ry="20.68" fill="#000" opacity="0.56" filter="url(#b4)"/>
<ellipse cx="1478" cy="2696" rx="16.919999999999998" ry="26.32" fill="#000" opacity="0.56" filter="url(#b4)"/>
<ellipse cx="1360" cy="2712" rx="15.04" ry="35.72" fill="#000" opacity="0.56" filter="url(#b4)"/>
<ellipse cx="1526" cy="2716" rx="15.04" ry="18.799999999999997" fill="#000" opacity="0.56" filter="url(#b4)"/>
<ellipse cx="1579" cy="2769" rx="31.959999999999997" ry="30.08" fill="#000" opacity="0.56" filter="url(#b4)"/>
<ellipse cx="1684" cy="2785" rx="52.64" ry="18.799999999999997" fill="#000" opacity="0.56" filter="url(#b4)" transform="rotate(-30 1684 2785)"/>
<ellipse cx="1838" cy="2765" rx="37.599999999999994" ry="24.439999999999998" fill="#000" opacity="0.56" filter="url(#b4)"/>
<ellipse cx="1344" cy="2765" rx="15.04" ry="45.12" fill="#000" opacity="0.56" filter="url(#b4)"/>
<ellipse cx="1470" cy="2809" rx="11.28" ry="30.08" fill="#000" opacity="0.56" filter="url(#b4)"/>
<ellipse cx="1927" cy="2820" rx="37.599999999999994" ry="28.2" fill="#000" opacity="0.56" filter="url(#b4)"/>
<ellipse cx="1583" cy="2828" rx="18.799999999999997" ry="13.16" fill="#000" opacity="0.56" filter="url(#b4)"/>
<ellipse cx="1930" cy="2440" rx="18.799999999999997" ry="28.2" fill="#000" opacity="0.56" filter="url(#b4)"/>
<ellipse cx="1640" cy="2500" rx="13.16" ry="13.16" fill="#000" opacity="0.56" filter="url(#b4)"/>
<ellipse cx="1745" cy="2560" rx="11.28" ry="15.04" fill="#000" opacity="0.56" filter="url(#b4)"/>
<ellipse cx="1900" cy="2700" rx="16.919999999999998" ry="16.919999999999998" fill="#000" opacity="0.56" filter="url(#b4)"/>
<ellipse cx="1496" cy="2532" rx="9" ry="9" fill="#fff" opacity="0.95" filter="url(#b2)"/>
<ellipse cx="1583" cy="2540" rx="5" ry="5" fill="#fff" opacity="0.95" filter="url(#b2)"/>
<ellipse cx="1581" cy="2770" rx="7" ry="7" fill="#fff" opacity="0.95" filter="url(#b2)"/>
<ellipse cx="1404" cy="2548" rx="8" ry="8" fill="#fff" opacity="0.95" filter="url(#b2)"/>
<ellipse cx="1838" cy="2470" rx="5" ry="5" fill="#fff" opacity="0.95" filter="url(#b2)"/>
<ellipse cx="1845" cy="2585" rx="8" ry="8" fill="#fff" opacity="0.95" filter="url(#b2)"/>
<ellipse cx="1376" cy="2388" rx="5" ry="5" fill="#fff" opacity="0.95" filter="url(#b2)"/>
<ellipse cx="1800" cy="2650" rx="20" ry="38" fill="#fff" opacity="0.6" filter="url(#b8)"/>
<ellipse cx="1350" cy="2830" rx="40" ry="20" fill="#fff" opacity="0.5" filter="url(#b14)"/>
<ellipse cx="1345" cy="2400" rx="16" ry="40" fill="#fff" opacity="0.4" filter="url(#b8)"/>
</g></g>
<rect x="1332" y="2367.5" width="623" height="474" filter="url(#dVb)" opacity="0.8"/>
</g>
<g clip-path="url(#cAa)"><g filter="url(#fAa)" transform="rotate(-24 1008.5 3103.75)"><g transform="rotate(24 1008.5 3103.75)">
<rect x="547" y="2715" width="923" height="777.5" fill="#808080"/>
<path d="M690 2860H885L690 2955Z" fill="#fff" opacity="0.85" filter="url(#b14)"/>
<ellipse cx="837" cy="3126" rx="55" ry="30" fill="#fff" opacity="0.7" filter="url(#b14)" transform="rotate(20 837 3126)"/>
<ellipse cx="1160" cy="3262" rx="95" ry="24" fill="#fff" opacity="0.6" filter="url(#b14)" transform="rotate(45 1160 3262)"/>
<ellipse cx="1290" cy="3322" rx="60" ry="40" fill="#fff" opacity="0.6" filter="url(#b14)"/>
<ellipse cx="735" cy="3312" rx="50" ry="22" fill="#fff" opacity="0.45" filter="url(#b14)" transform="rotate(-30 735 3312)"/>
<ellipse cx="1240" cy="2975" rx="24" ry="18" fill="#fff" opacity="0.55" filter="url(#b8)"/>
<ellipse cx="1010" cy="3060" rx="22" ry="40" fill="#fff" opacity="0.3" filter="url(#b14)" transform="rotate(30 1010 3060)"/>
<ellipse cx="900" cy="3300" rx="60" ry="20" fill="#fff" opacity="0.3" filter="url(#b14)"/>
<ellipse cx="1000" cy="3050" rx="240" ry="150" fill="#000" opacity="0.12" filter="url(#b25)"/>
</g></g>
</g>
<g clip-path="url(#cAb)"><g filter="url(#fAb)" transform="rotate(15 1647.25 3102.75)"><g transform="rotate(-15 1647.25 3102.75)">
<rect x="1186" y="2715" width="922.5" height="775.5" fill="#848484"/>
<ellipse cx="1858" cy="3012" rx="58" ry="40" fill="#000" opacity="0.55" filter="url(#b4)" transform="rotate(20 1858 3012)"/>
<ellipse cx="1800" cy="3075" rx="40" ry="30" fill="#000" opacity="0.35" filter="url(#b4)" transform="rotate(-40 1800 3075)"/>
<ellipse cx="1790" cy="3155" rx="50" ry="34" fill="#000" opacity="0.35" filter="url(#b4)" transform="rotate(30 1790 3155)"/>
<ellipse cx="1583" cy="2895" rx="48" ry="36" fill="#000" opacity="0.4" filter="url(#b4)" transform="rotate(-30 1583 2895)"/>
<ellipse cx="1587" cy="3017" rx="30" ry="28" fill="#000" opacity="0.35" filter="url(#b4)"/>
<ellipse cx="1425" cy="3060" rx="30" ry="30" fill="#000" opacity="0.35" filter="url(#b4)"/>
<ellipse cx="1591" cy="3239" rx="38" ry="32" fill="#000" opacity="0.4" filter="url(#b4)"/>
<ellipse cx="1500" cy="3000" rx="24" ry="30" fill="#000" opacity="0.35" filter="url(#b4)" transform="rotate(-30 1500 3000)"/>
<ellipse cx="1595" cy="3110" rx="24" ry="40" fill="#000" opacity="0.28" filter="url(#b4)" transform="rotate(20 1595 3110)"/>
<ellipse cx="1380" cy="3200" rx="22" ry="40" fill="#000" opacity="0.3" filter="url(#b4)"/>
<ellipse cx="1500" cy="3170" rx="24" ry="20" fill="#000" opacity="0.3" filter="url(#b4)"/>
<ellipse cx="1590" cy="3170" rx="20" ry="16" fill="#000" opacity="0.3" filter="url(#b4)"/>
<ellipse cx="1690" cy="3110" rx="20" ry="26" fill="#000" opacity="0.28" filter="url(#b4)"/>
<ellipse cx="1480" cy="3310" rx="16" ry="26" fill="#000" opacity="0.35" filter="url(#b4)"/>
<ellipse cx="1700" cy="3250" rx="30" ry="14" fill="#000" opacity="0.35" filter="url(#b4)" transform="rotate(-30 1700 3250)"/>
<ellipse cx="1365" cy="2940" rx="18" ry="22" fill="#000" opacity="0.3" filter="url(#b4)"/>
<ellipse cx="1900" cy="2890" rx="14" ry="30" fill="#000" opacity="0.3" filter="url(#b4)"/>
<ellipse cx="1800" cy="3300" rx="60" ry="14" fill="#000" opacity="0.2" filter="url(#b4)" transform="rotate(-30 1800 3300)"/>
<ellipse cx="1801" cy="3118" rx="18" ry="25" fill="#fff" opacity="0.95" filter="url(#b2)"/>
<ellipse cx="1593" cy="3240" rx="9" ry="11" fill="#fff" opacity="0.95" filter="url(#b2)"/>
<ellipse cx="1428" cy="3066" rx="7" ry="7" fill="#fff" opacity="0.95" filter="url(#b2)"/>
<ellipse cx="1590" cy="3020" rx="5" ry="5" fill="#fff" opacity="0.95" filter="url(#b2)"/>
<ellipse cx="1372" cy="3230" rx="12" ry="16" fill="#fff" opacity="0.95" filter="url(#b2)"/>
<ellipse cx="1383" cy="3190" rx="6" ry="10" fill="#fff" opacity="0.95" filter="url(#b2)"/>
<ellipse cx="1860" cy="3040" rx="5" ry="5" fill="#fff" opacity="0.95" filter="url(#b2)"/>
</g></g>
<rect x="1336" y="2865" width="622.5" height="475.5" filter="url(#dAb)" opacity="0.75"/>
<rect x="1883" y="3315" width="37" height="11" fill="#000"/>
</g>
<g clip-path="url(#cIL)"><g filter="url(#fIL)" transform="rotate(35 495.0 2608.5)"><g transform="rotate(-35 495.0 2608.5)">
<rect x="173" y="2287" width="644" height="643" fill="#808080"/>
<ellipse cx="430" cy="2600" rx="60" ry="26" fill="#fff" opacity="0.35" filter="url(#b14)" transform="rotate(40 430 2600)"/>
<ellipse cx="570" cy="2690" rx="60" ry="22" fill="#fff" opacity="0.4" filter="url(#b14)" transform="rotate(45 570 2690)"/>
<ellipse cx="520" cy="2470" rx="50" ry="22" fill="#fff" opacity="0.3" filter="url(#b14)" transform="rotate(-20 520 2470)"/>
<ellipse cx="360" cy="2700" rx="30" ry="40" fill="#fff" opacity="0.3" filter="url(#b14)"/>
<ellipse cx="470" cy="2540" rx="60" ry="40" fill="#000" opacity="0.25" filter="url(#b14)"/>
<ellipse cx="620" cy="2520" rx="40" ry="60" fill="#000" opacity="0.2" filter="url(#b14)"/>
</g></g>
<rect x="334" y="2752" width="82" height="10" fill="#000"/>
</g>
<rect x="323" y="2435.5" width="344" height="344" fill="none" stroke="#222" stroke-width="5.6"/>
<g clip-path="url(#cIR)"><g filter="url(#fIR)" transform="rotate(-20 2162.0 2604.5)"><g transform="rotate(20 2162.0 2604.5)">
<rect x="1841" y="2286" width="642" height="637" fill="#6e6e6e"/>
<ellipse cx="2036" cy="2718" rx="44" ry="64" fill="#fff" opacity="0.95" filter="url(#b8)" transform="rotate(10 2036 2718)"/>
<ellipse cx="2170" cy="2585" rx="20" ry="80" fill="#fff" opacity="0.85" filter="url(#b8)" transform="rotate(20 2170 2585)"/>
<ellipse cx="2195" cy="2735" rx="85" ry="32" fill="#fff" opacity="0.6" filter="url(#b14)"/>
<ellipse cx="2316" cy="2600" rx="15" ry="160" fill="#fff" opacity="0.5" filter="url(#b8)"/>
<ellipse cx="2035" cy="2485" rx="45" ry="45" fill="#fff" opacity="0.4" filter="url(#b14)"/>
<ellipse cx="2250" cy="2480" rx="13" ry="11" fill="#fff" opacity="0.9" filter="url(#b4)"/>
<ellipse cx="2150" cy="2470" rx="30" ry="16" fill="#fff" opacity="0.5" filter="url(#b8)" transform="rotate(30 2150 2470)"/>
<ellipse cx="2120" cy="2560" rx="50" ry="50" fill="#000" opacity="0.3" filter="url(#b14)"/>
<ellipse cx="2255" cy="2625" rx="40" ry="50" fill="#000" opacity="0.3" filter="url(#b14)"/>
</g></g>
<ellipse cx="2211" cy="2446" rx="9" ry="8" fill="#96321e" opacity="0.75" filter="url(#b4)"/>
<ellipse cx="2232" cy="2533" rx="12" ry="10" fill="#96321e" opacity="0.75" filter="url(#b4)"/>
<ellipse cx="2322" cy="2716" rx="8" ry="14" fill="#96321e" opacity="0.75" filter="url(#b4)"/>
<ellipse cx="2105" cy="2500" rx="8" ry="8" fill="#96321e" opacity="0.75" filter="url(#b4)"/>
<ellipse cx="2258" cy="2585" rx="9" ry="8" fill="#96321e" opacity="0.75" filter="url(#b4)"/>
<ellipse cx="2128" cy="2625" rx="9" ry="8" fill="#96321e" opacity="0.75" filter="url(#b4)"/>
<rect x="1991" y="2436" width="342" height="337" filter="url(#dIR)" opacity="0.7"/>
<path d="M2099 2550L2121.5 2551.5L2110.5 2570Z M2190.5 2594L2213 2594L2202 2614Z M2149.5 2621L2134 2640L2158 2640Z M2067.5 2659L2089 2647.5L2086 2671.5Z" fill="#000"/>
<rect x="2000.5" y="2746" width="82.5" height="11" fill="#000"/>
</g>
<rect x="1991" y="2436" width="342" height="337" fill="none" stroke="#222" stroke-width="5.6"/>
<g stroke="#0c0c0c" stroke-width="5.4" fill="none">
<rect x="888" y="2574.5" width="147" height="143"/>
<path d="M668 2436L888 2574M668 2780L888 2718"/>
<rect x="1776" y="2512.5" width="142" height="141"/>
<path d="M1919 2511L1990 2434M1919 2655L1990 2774"/>
</g>
</g>
</svg></body></html>
